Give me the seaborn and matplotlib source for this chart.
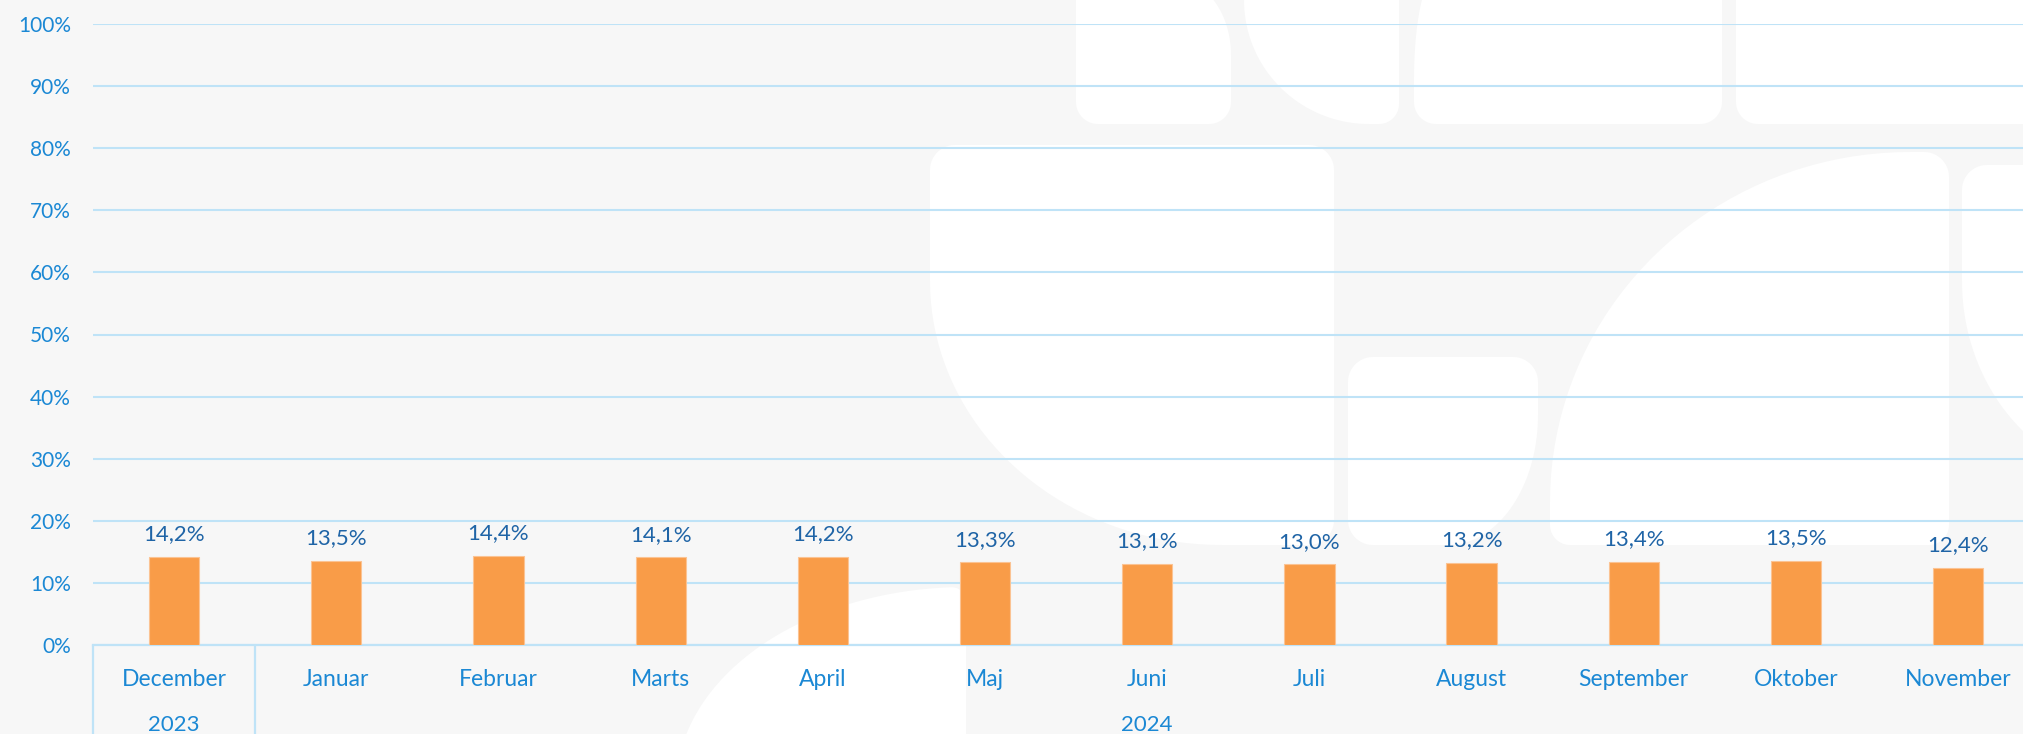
import numpy as np
import pandas as pd
import matplotlib
matplotlib.use("Agg")
import matplotlib.pyplot as plt
import matplotlib.transforms as mtransforms
from matplotlib.patches import Polygon
import seaborn as sns

# ---- data ----
months = ["December", "Januar", "Februar", "Marts", "April", "Maj", "Juni",
          "Juli", "August", "September", "Oktober", "November"]
values = [14.2, 13.5, 14.4, 14.1, 14.2, 13.3, 13.1, 13.0, 13.2, 13.4, 13.5, 12.4]
value_labels = ["14,2%", "13,5%", "14,4%", "14,1%", "14,2%", "13,3%", "13,1%",
                "13,0%", "13,2%", "13,4%", "13,5%", "12,4%"]
years = ["2023", "2024"]
year_spans = [(0, 0), (1, 11)]
yticks = [0, 10, 20, 30, 40, 50, 60, 70, 80, 90, 100]

# ---- style ----
BG = "#f7f7f7"
GRID = "#bfe3f7"
TICK_BLUE = "#1b88d4"
LABEL_BLUE = "#1f64a6"
BAR = "#f99c48"
FONT = ["Lato", "DejaVu Sans"]

sns.set_theme(style="white")
plt.rcParams["font.family"] = FONT

W, H = 2023, 734
fig = plt.figure(figsize=(W / 100, H / 100), dpi=100, facecolor=BG)

# ---- background watermark shapes (decorative) ----
bg = fig.add_axes([0, 0, 1, 1], zorder=0)
bg.set_xlim(0, W)
bg.set_ylim(H, 0)
bg.axis("off")
bg.set_facecolor(BG)


def rrect(x0, y0, x1, y1, tl=(0, 0), tr=(0, 0), br=(0, 0), bl=(0, 0), n=40):
    pts = []

    def arc(cx, cy, rx, ry, a0, a1):
        t = np.radians(np.linspace(a0, a1, n))
        return list(zip(cx + rx * np.cos(t), cy + ry * np.sin(t)))

    pts += arc(x0 + tl[0], y0 + tl[1], tl[0], tl[1], 180, 270)
    pts += arc(x1 - tr[0], y0 + tr[1], tr[0], tr[1], 270, 360)
    pts += arc(x1 - br[0], y1 - br[1], br[0], br[1], 0, 90)
    pts += arc(x0 + bl[0], y1 - bl[1], bl[0], bl[1], 90, 180)
    return Polygon(pts, closed=True, facecolor="white", edgecolor="none")


shapes = [
    (1076, -20, 1231, 124, (0, 0), (55, 75), (22, 22), (22, 22)),
    (1244, -20, 1399, 124, (0, 0), (0, 0), (20, 20), (125, 124)),
    (1414, -20, 1722, 124, (20, 100), (0, 0), (22, 22), (22, 22)),
    (1736, -20, 2060, 124, (0, 0), (0, 0), (0, 0), (22, 22)),
    (930, 145, 1334, 545, (25, 25), (25, 25), (25, 25), (292, 264)),
    (1348, 357, 1538, 545, (25, 25), (25, 25), (90, 130), (25, 25)),
    (1550, 152, 1949, 545, (360, 350), (25, 25), (20, 20), (20, 20)),
    (1962, 165, 2200, 481, (25, 25), (0, 0), (0, 0), (180, 200)),
    (676, 587, 966, 1000, (290, 200), (15, 15), (0, 0), (0, 0)),
]
for s in shapes:
    bg.add_patch(rrect(*s))

# ---- main axes ----
left = 93 / W
bottom = (H - 645) / H
top = (H - 24) / H
ax = fig.add_axes([left, bottom, 1 - left, top - bottom], zorder=1)
ax.patch.set_alpha(0)

df = pd.DataFrame({"month": months, "value": values})
sns.barplot(data=df, x="month", y="value", color=BAR, width=0.31,
            saturation=1, edgecolor="#fbc393", linewidth=0.8, ax=ax, zorder=3)

ax.set_xlim(-0.5, 11.4)
ax.set_ylim(0, 100)
ax.set_yticks(yticks)
ax.set_yticklabels([f"{v}%" for v in yticks])
ax.yaxis.grid(True, color=GRID, linewidth=1.5, zorder=0)
ax.set_axisbelow(True)
for sp in ["left", "right", "top"]:
    ax.spines[sp].set_visible(False)
ax.spines["bottom"].set_color(GRID)
ax.spines["bottom"].set_linewidth(1.6)
ax.set_xlabel("")
ax.set_ylabel("")
ax.tick_params(axis="y", length=0, pad=16, labelsize=15, labelcolor=TICK_BLUE)
ax.tick_params(axis="x", length=0, pad=17, labelsize=16.5, labelcolor=TICK_BLUE)

# value labels
for i, (v, lab) in enumerate(zip(values, value_labels)):
    ax.annotate(lab, (i, v), xytext=(0, 12), textcoords="offset points",
                ha="center", va="baseline", fontsize=16, color=LABEL_BLUE)

# year group labels and separators
trans = mtransforms.blended_transform_factory(ax.transData, ax.transAxes)
for (a, b), yr in zip(year_spans, years):
    ax.text((a + b) / 2, -0.129, yr, transform=trans, ha="center", va="center",
            fontsize=16, color=TICK_BLUE)
for xsep in [-0.5, 0.5]:
    ax.plot([xsep, xsep], [0, -0.2], transform=trans, color=GRID,
            linewidth=1.6, clip_on=False)

fig.savefig("out.png", dpi=100, facecolor=BG)
